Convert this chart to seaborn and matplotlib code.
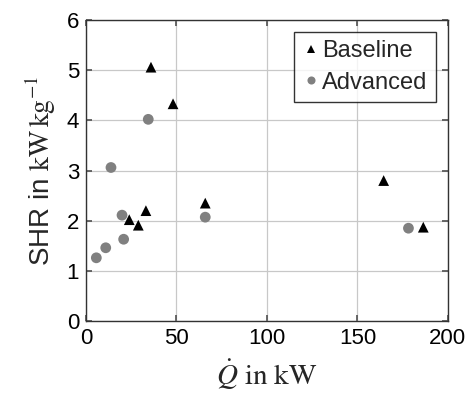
import matplotlib
matplotlib.use("Agg")
import matplotlib.pyplot as plt
import seaborn as sns
import pandas as pd

baseline_q = [35.9, 48.1, 33.1, 23.9, 28.9, 65.9, 164.5, 186.4]
baseline_shr = [5.06, 4.33, 2.20, 2.02, 1.91, 2.35, 2.80, 1.87]
advanced_q = [34.4, 13.8, 19.9, 20.8, 10.9, 5.7, 65.9, 178.2]
advanced_shr = [4.02, 3.06, 2.11, 1.63, 1.46, 1.26, 2.07, 1.85]

sns.set_theme(style="ticks")
plt.rcParams['font.family'] = ['Liberation Sans', 'DejaVu Sans']
plt.rcParams['mathtext.fontset'] = 'stix'

df = pd.concat([
    pd.DataFrame({"q": baseline_q, "shr": baseline_shr, "series": "Baseline"}),
    pd.DataFrame({"q": advanced_q, "shr": advanced_shr, "series": "Advanced"}),
])

fig = plt.figure(figsize=(4.69, 3.97), dpi=100)
ax = fig.add_axes([0.1834, 0.1914, 0.955 - 0.1834, 0.9496 - 0.1914])

sns.scatterplot(data=df, x="q", y="shr", hue="series", style="series",
                palette={"Baseline": "black", "Advanced": "#808080"},
                markers={"Baseline": "^", "Advanced": "o"},
                s=60, linewidth=0, ax=ax, zorder=3)

ax.set_xlim(0, 200)
ax.set_ylim(0, 6)
ax.set_xticks([0, 50, 100, 150, 200])
ax.set_yticks([0, 1, 2, 3, 4, 5, 6])
ax.grid(True, color="#c8c8c8", linewidth=0.9)
ax.set_axisbelow(True)
for sp in ax.spines.values():
    sp.set_visible(True)
    sp.set_color("#333333")
    sp.set_linewidth(1.0)
ax.tick_params(direction="in", top=True, right=True, labelsize=16,
               length=4, color="#555555", pad=5, labelcolor="black")

ax.set_xlabel(r"$\dot{Q}\ \mathrm{in\ kW}$", fontsize=21, labelpad=6)
ax.set_ylabel(r"SHR in $\mathrm{kW\,kg^{-1}}$", fontsize=20, labelpad=6)

leg = ax.legend(loc="upper right", fontsize=17, frameon=True, fancybox=False,
                edgecolor="black", handletextpad=0.15, borderaxespad=0.5,
                handlelength=0.7, markerscale=0.75, borderpad=0.35,
                labelspacing=0.4)
leg.get_frame().set_linewidth(1.0)
leg.set_title(None)

fig.savefig("out.png", dpi=100)
